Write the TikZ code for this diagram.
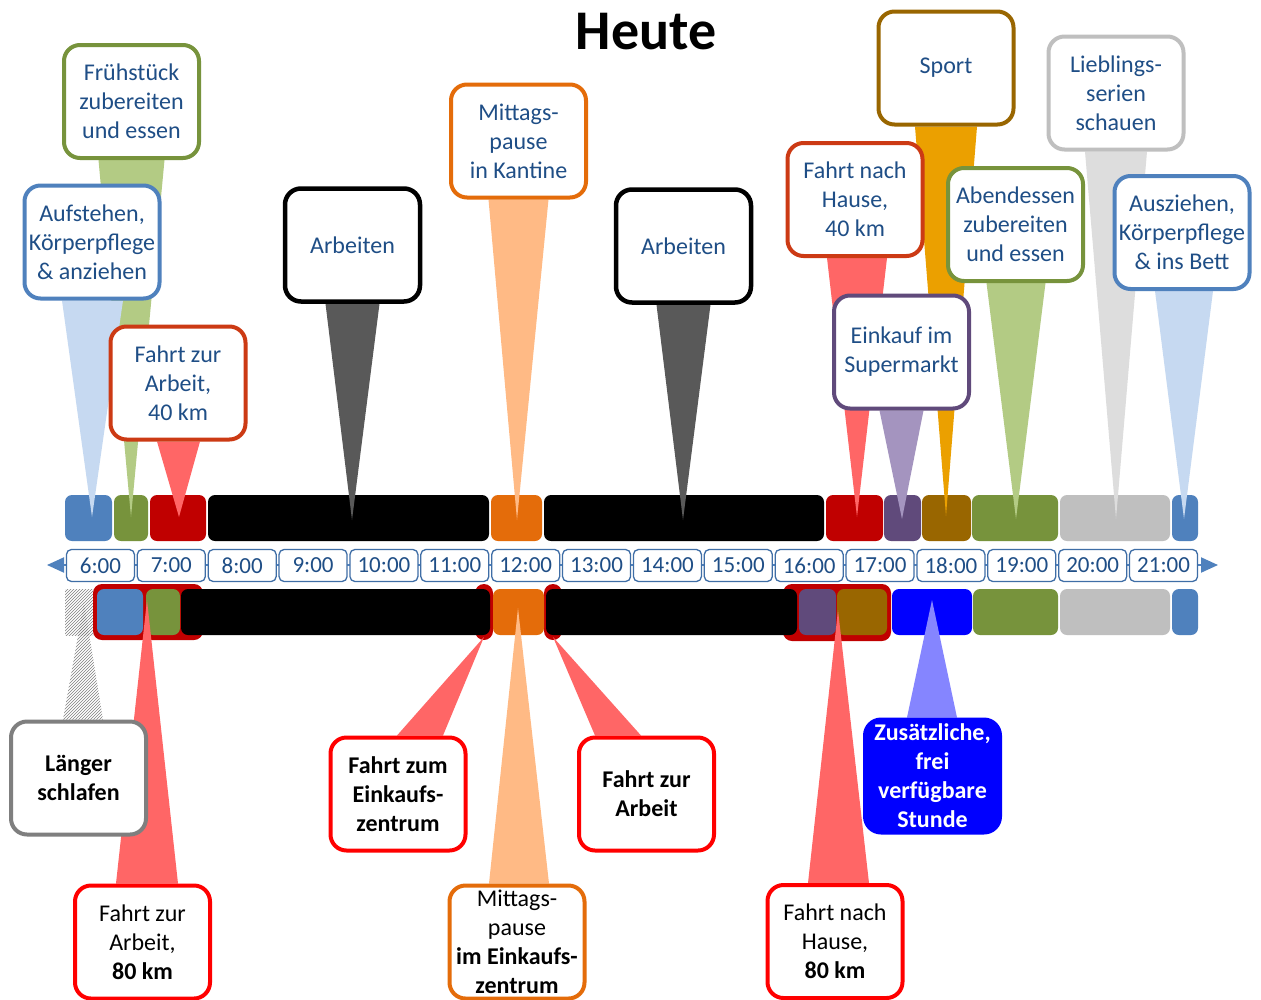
\documentclass[tikz,border=0pt]{standalone}
\usepackage{fontspec}
\setmainfont{Carlito}
\usetikzlibrary{patterns,arrows.meta}
\definecolor{cBlue}{HTML}{4F81BD}
\definecolor{cGreen}{HTML}{77933C}
\definecolor{cRed}{HTML}{C00000}
\definecolor{cOrange}{HTML}{E46C0A}
\definecolor{cPurple}{HTML}{604A7B}
\definecolor{cBrown}{HTML}{996600}
\definecolor{cGray}{HTML}{BFBFBF}
\definecolor{cFree}{HTML}{0000FF}
\definecolor{wBlue}{HTML}{C6D9F1}
\definecolor{wGreen}{HTML}{B3CB84}
\definecolor{wRed}{HTML}{FF6666}
\definecolor{wDark}{HTML}{595959}
\definecolor{wOrange}{HTML}{FFBA85}
\definecolor{wSport}{HTML}{EBA000}
\definecolor{wPurple}{HTML}{A494BF}
\definecolor{wGray}{HTML}{DDDDDD}
\definecolor{wFree}{HTML}{8585FF}
\definecolor{bRedOr}{HTML}{CC3A14}
\definecolor{bGrayD}{HTML}{7F7F7F}
\definecolor{txtBlue}{HTML}{1F4E86}
\definecolor{hourLine}{HTML}{3F6EA6}
\pgfdeclarelayer{back}
\pgfdeclarelayer{mid}
\pgfsetlayers{back,mid,main}
\newcommand\myboxfont{\fontsize{24}{29}\selectfont}
\begin{document}
\begin{tikzpicture}[x=1pt,y=-1pt,
  callout/.style={draw=#1, line width=4pt, rounded corners=16pt, fill=white,
    minimum width=135pt, minimum height=113pt, inner sep=0pt, align=center,
    font=\myboxfont, text=txtBlue},
  boldcall/.style={callout=#1, text=black, font={\myboxfont\bfseries}},
  plaincall/.style={callout=#1, text=black},
  hourbox/.style={draw=hourLine, fill=white, line width=1.3pt, rounded corners=5pt,
    minimum width=68pt, minimum height=32pt, inner sep=0pt,
    font=\fontsize{23}{28}\selectfont, text=txtBlue},
  blk/.style={rounded corners=7pt},
  under/.style={rounded corners=9pt, fill=cRed},
  hatch/.style={pattern=north east lines, pattern color=gray}
]
\useasboundingbox (0,0) rectangle (1261,999);
\begin{pgfonlayer}{back}
\fill[white] (0,0) rectangle (1261,999);
% timeline
\coordinate (tlL) at (47,565);
\coordinate (tlR) at (1218,565);
\draw[cBlue, line width=2pt, {Triangle[length=17pt,width=15pt]}-{Triangle[length=17pt,width=15pt]}] (tlL) -- (tlR);
\foreach \h [count=\i from 0] in {6,...,21}
  \node[hourbox] (h\h) at ({65+(\i+0.5)*70.875},565.5) {\h:00};
% top bar
\fill[blk, cBlue]   (65,495) rectangle (112,541);
\fill[blk, cGreen]  (114,495) rectangle (148,541);
\fill[blk, cRed]    (150,495) rectangle (206,541);
\fill[blk, black]   (208,495) rectangle (489,541);
\fill[blk, cOrange] (491,495) rectangle (542,541);
\fill[blk, black]   (544,495) rectangle (824,541);
\fill[blk, cRed]    (826,495) rectangle (883,541);
\fill[blk, cPurple] (884,495) rectangle (921,541);
\fill[blk, cBrown]  (922,495) rectangle (971,541);
\fill[blk, cGreen]  (972,495) rectangle (1058,541);
\fill[blk, cGray]   (1060,495) rectangle (1170,541);
\fill[blk, cBlue]   (1172,495) rectangle (1198,541);
% bottom bar
\fill[hatch] (65,589) rectangle (93,635);
\fill[under] (93,584) rectangle (203,640);
\fill[under] (475,584) rectangle (493,640);
\fill[under] (544,584) rectangle (562,640);
\fill[under] (783,584) rectangle (891,641);
\fill[blk, cBlue]   (97,589) rectangle (143,635);
\fill[blk, cGreen]  (146,589) rectangle (180,635);
\fill[blk, black]   (181,589) rectangle (490,635);
\fill[blk, cOrange] (493,589) rectangle (544,635);
\fill[blk, black]   (546,589) rectangle (797,635);
\fill[blk, cPurple] (799,589) rectangle (836,635);
\fill[blk, cBrown]  (837,589) rectangle (887,635);
\fill[blk, cFree]   (892,589) rectangle (972,635);
\fill[blk, cGreen]  (973,589) rectangle (1058,635);
\fill[blk, cGray]   (1060,589) rectangle (1170,635);
\fill[blk, cBlue]   (1172,589) rectangle (1198,635);
\end{pgfonlayer}

% title
\node[font={\fontsize{56}{60}\selectfont\bfseries}] (title) at (646,32) {Heute};

% top callouts
\node[callout=cGreen]  (fruh)  at (131.5,101.5) {Frühstück\\zubereiten\\und essen};
\node[callout=cBlue]   (aufst) at (92,242) {Aufstehen,\\Körperpflege\\\& anziehen};
\node[callout=bRedOr]  (fa40)  at (178,383) {Fahrt zur\\Arbeit,\\40 km};
\node[callout=black, line width=4.5pt] (arb1) at (352.5,245) {Arbeiten};
\node[callout=cOrange] (mitt)  at (518.5,141) {Mittags-\\pause\\in Kantine};
\node[callout=black, line width=4.5pt] (arb2) at (683.5,246) {Arbeiten};
\node[callout=cBrown]  (sport) at (946,68) {Sport};
\node[callout=bRedOr]  (fh40)  at (855,199.5) {Fahrt nach\\Hause,\\40 km};
\node[callout=cPurple] (eink)  at (901.5,352) {Einkauf im\\Supermarkt};
\node[callout=cGreen]  (abend) at (1015.5,224.5) {Abendessen\\zubereiten\\und essen};
\node[callout=cGray]   (lieb)  at (1116,93) {Lieblings-\\serien\\schauen};
\node[callout=cBlue]   (ausz)  at (1182,232.5) {Ausziehen,\\Körperpflege\\\& ins Bett};

% bottom callouts
\node[boldcall=bGrayD]  (lang) at (78.5,778) {Länger\\schlafen};
\node[plaincall=red]    (fa80) at (142.5,942) {Fahrt zur\\Arbeit,\\\textbf{80 km}};
\node[boldcall=red]     (fez)  at (398,794) {Fahrt zum\\Einkaufs-\\zentrum};
\node[boldcall=red]     (fza)  at (646.5,794) {Fahrt zur\\Arbeit};
\node[plaincall=cOrange] (mez) at (517,942) {Mittags-\\pause\\\textbf{im Einkaufs-}\\\textbf{zentrum}};
\node[plaincall=red]    (fh80) at (835,941.5) {Fahrt nach\\Hause,\\\textbf{80 km}};
\node[boldcall=cFree, fill=cFree, text=white] (frei) at (932.5,776) {Zusätzliche,\\frei\\verfügbare\\Stunde};

% wedges
\begin{pgfonlayer}{mid}
\coordinate (tFruh)  at (131,517);
\coordinate (tAufst) at (92,517);
\coordinate (tFa40)  at (179,517);
\coordinate (tArb1)  at (352,520);
\coordinate (tMitt)  at (517,520);
\coordinate (tArb2)  at (683,520);
\coordinate (tSport) at (946,516);
\coordinate (tFh40)  at (857,517);
\coordinate (tEink)  at (902,519);
\coordinate (tAbend) at (1016,519);
\coordinate (tLieb)  at (1116,519);
\coordinate (tAusz)  at (1184,519);
\coordinate (tLang)  at (84,602);
\coordinate (tFa80)  at (147,600);
\coordinate (tFez)   at (484,637);
\coordinate (tFza)   at (553,637);
\coordinate (tMez)   at (518,608);
\coordinate (tFh80)  at (838,610);
\coordinate (tFrei)  at (932,600);
\fill[wGreen]  ([xshift=-33pt]fruh.south)  -- ([xshift=33pt]fruh.south)  -- (tFruh) -- cycle;
\fill[wBlue]   ([xshift=-30pt]aufst.south) -- ([xshift=31pt]aufst.south) -- (tAufst) -- cycle;
\fill[wRed]    ([xshift=-21pt]fa40.south)  -- ([xshift=22pt]fa40.south)  -- (tFa40) -- cycle;
\fill[wDark]   ([xshift=-27pt]arb1.south)  -- ([xshift=27pt]arb1.south)  -- (tArb1) -- cycle;
\fill[wOrange] ([xshift=-30pt]mitt.south)  -- ([xshift=30pt]mitt.south)  -- (tMitt) -- cycle;
\fill[wDark]   ([xshift=-27pt]arb2.south)  -- ([xshift=27pt]arb2.south)  -- (tArb2) -- cycle;
\fill[wSport]  ([xshift=-31pt]sport.south) -- ([xshift=31pt]sport.south) -- (tSport) -- cycle;
\fill[wRed]    ([xshift=-28pt]fh40.south)  -- ([xshift=32pt]fh40.south)  -- (tFh40) -- cycle;
\fill[wPurple] ([xshift=-22pt]eink.south)  -- ([xshift=22pt]eink.south)  -- (tEink) -- cycle;
\fill[wGreen]  ([xshift=-29pt]abend.south) -- ([xshift=30pt]abend.south) -- (tAbend) -- cycle;
\fill[wGray]   ([xshift=-31pt]lieb.south)  -- ([xshift=31pt]lieb.south)  -- (tLieb) -- cycle;
\fill[wBlue]   ([xshift=-27pt]ausz.south)  -- ([xshift=31pt]ausz.south)  -- (tAusz) -- cycle;
\fill[hatch]   ([xshift=-15.5pt]lang.north) -- ([xshift=24.5pt]lang.north) -- (tLang) -- cycle;
\fill[wRed]    ([xshift=-26.5pt]fa80.north) -- ([xshift=35.5pt]fa80.north) -- (tFa80) -- cycle;
\fill[wRed]    ([xshift=-1pt]fez.north)   -- ([xshift=45pt]fez.north)   -- (tFez) -- cycle;
\fill[wRed]    ([xshift=-51.5pt]fza.north) -- ([xshift=-5.5pt]fza.north) -- (tFza) -- cycle;
\fill[wOrange] ([xshift=-28pt]mez.north)  -- ([xshift=32pt]mez.north)  -- (tMez) -- cycle;
\fill[wRed]    ([xshift=-27pt]fh80.north) -- ([xshift=34pt]fh80.north) -- (tFh80) -- cycle;
\fill[wFree]   ([xshift=-25.5pt]frei.north) -- ([xshift=24.5pt]frei.north) -- (tFrei) -- cycle;
\end{pgfonlayer}
\end{tikzpicture}
\end{document}
